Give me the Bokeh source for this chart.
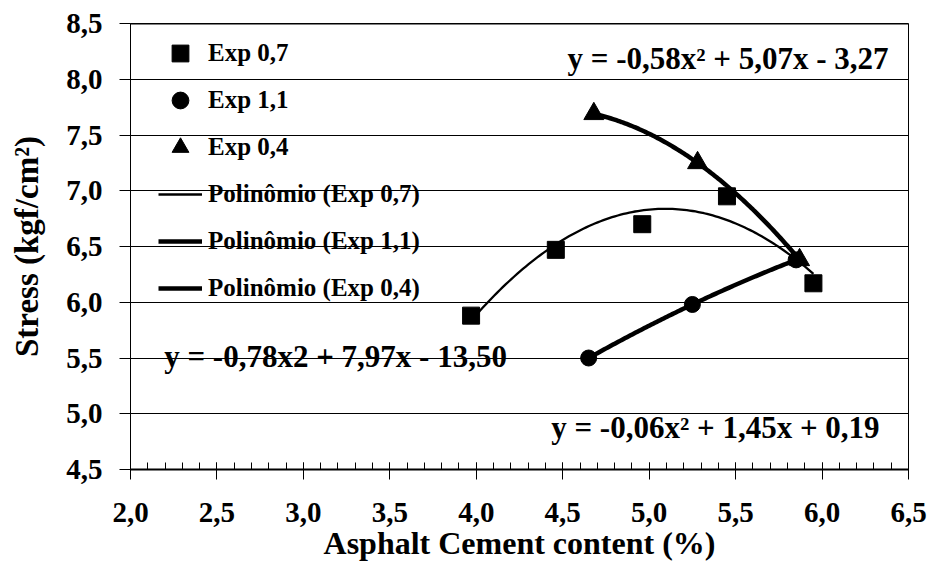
import numpy as np
from bokeh.plotting import figure
from bokeh.models import FixedTicker, Legend, LegendItem, Label, Span, Range1d
from bokeh.embed import file_html
from bokeh.resources import INLINE

# ---- data ----
exp07_x = [3.97, 4.46, 4.96, 5.45, 5.95]
exp07_y = [5.88, 6.47, 6.70, 6.95, 6.17]
exp11_x = [4.65, 5.25, 5.85]
exp11_y = [5.50, 5.98, 6.38]
exp04_x = [4.68, 5.28, 5.87]
exp04_y = [7.69, 7.25, 6.38]

series_names = ["Exp 0,7", "Exp 1,1", "Exp 0,4"]
trend_names = ["Polinômio (Exp 0,7)", "Polinômio (Exp 1,1)", "Polinômio (Exp 0,4)"]

x_ticks = [2.0, 2.5, 3.0, 3.5, 4.0, 4.5, 5.0, 5.5, 6.0, 6.5]
x_tick_labels = ["2,0", "2,5", "3,0", "3,5", "4,0", "4,5", "5,0", "5,5", "6,0", "6,5"]
y_ticks = [4.5, 5.0, 5.5, 6.0, 6.5, 7.0, 7.5, 8.0, 8.5]
y_tick_labels = ["4,5", "5,0", "5,5", "6,0", "6,5", "7,0", "7,5", "8,0", "8,5"]

eq_texts = ["y = -0,58x² + 5,07x - 3,27",
            "y = -0,78x2 + 7,97x - 13,50",
            "y = -0,06x² + 1,45x + 0,19"]

x_title = "Asphalt Cement content (%)"
y_title = "Stress (kgf/cm²)"

FONT = "Liberation Serif"

p = figure(width=930, height=567, output_backend="svg", toolbar_location=None,
           x_range=Range1d(2.0, 6.5), y_range=Range1d(4.5, 8.5),
           min_border_left=130, min_border_right=22, min_border_top=23,
           min_border_bottom=98)
p.background_fill_color = "white"
p.border_fill_color = "white"
p.outline_line_color = "black"
p.outline_line_width = 1

# axes
minor_x = [round(2.0 + 0.1 * i, 1) for i in range(46)]
p.xaxis.ticker = FixedTicker(ticks=x_ticks, minor_ticks=minor_x)
p.xaxis.major_label_overrides = {t: s for t, s in zip(x_ticks, x_tick_labels)}
p.yaxis.ticker = FixedTicker(ticks=y_ticks)
p.yaxis.major_label_overrides = {t: s for t, s in zip(y_ticks, y_tick_labels)}

for ax in (p.xaxis[0], p.yaxis[0]):
    ax.major_label_text_font = FONT
    ax.major_label_text_font_style = "bold"
    ax.major_label_text_font_size = "29px"
    ax.major_label_text_color = "black"
    ax.axis_label_text_font = FONT
    ax.axis_label_text_font_style = "bold"
    ax.axis_label_text_color = "black"
    ax.axis_line_color = "black"
    ax.major_tick_line_color = "black"
    ax.minor_tick_line_color = "black"

p.xaxis.axis_label = x_title
p.yaxis.axis_label = y_title
p.xaxis.axis_label_text_font_size = "32px"
p.yaxis.axis_label_text_font_size = "33px"
p.xaxis.axis_line_width = 2
p.xaxis.major_tick_in = 7
p.xaxis.major_tick_out = 10
p.xaxis.minor_tick_in = 7
p.xaxis.minor_tick_out = 0
p.xaxis.major_label_standoff = 23
p.xaxis.axis_label_standoff = 0

p.yaxis.axis_line_width = 1
p.yaxis.major_tick_in = 0
p.yaxis.major_tick_out = 11
p.yaxis.minor_tick_line_color = None
p.yaxis.major_label_standoff = 17
p.yaxis.axis_label_standoff = 18

p.xgrid.visible = False
p.ygrid.ticker = FixedTicker(ticks=y_ticks[1:-1])
p.ygrid.grid_line_color = "black"
p.ygrid.grid_line_width = 1

p.add_layout(Span(location=y_ticks[-1], dimension="width", line_color="black", line_width=2))

# markers
r_sq = p.scatter(exp07_x, exp07_y, marker="square", size=17, color="black")
r_ci = p.scatter(exp11_x, exp11_y, marker="circle", size=16, color="black")
r_tr = p.scatter(exp04_x, exp04_y, marker="triangle", size=20, color="black")

# polynomial trendlines (2nd order fits of each series)
def trend(xs, ys):
    c = np.polyfit(xs, ys, 2)
    xx = np.linspace(min(xs), max(xs), 120)
    return xx, np.polyval(c, xx)

tx, ty = trend(exp07_x, exp07_y)
l_07 = p.line(tx, ty, line_color="black", line_width=2.3)
tx, ty = trend(exp11_x, exp11_y)
l_11 = p.line(tx, ty, line_color="black", line_width=4.5)
tx, ty = trend(exp04_x, exp04_y)
l_04 = p.line(tx, ty, line_color="black", line_width=4.5)

legend = Legend(items=[
    LegendItem(label=series_names[0], renderers=[r_sq]),
    LegendItem(label=series_names[1], renderers=[r_ci]),
    LegendItem(label=series_names[2], renderers=[r_tr]),
    LegendItem(label=trend_names[0], renderers=[l_07]),
    LegendItem(label=trend_names[1], renderers=[l_11]),
    LegendItem(label=trend_names[2], renderers=[l_04]),
], location=(28, 160), padding=0, margin=0, spacing=5,
   glyph_width=44, glyph_height=42, label_standoff=6,
   label_text_font=FONT, label_text_font_style="bold",
   label_text_font_size="25px", label_text_color="black",
   border_line_color=None, background_fill_alpha=0)
p.add_layout(legend)

eq_pos = [(5.456, 8.19), (3.186, 5.51), (5.383, 4.877)]
for (ex, ey), t in zip(eq_pos, eq_texts):
    p.add_layout(Label(x=ex, y=ey, text=t, text_align="center",
                       text_baseline="alphabetic", text_font=FONT,
                       text_font_style="bold", text_font_size="31px",
                       text_color="black"))

open("out.html", "w").write(file_html(p, INLINE))
